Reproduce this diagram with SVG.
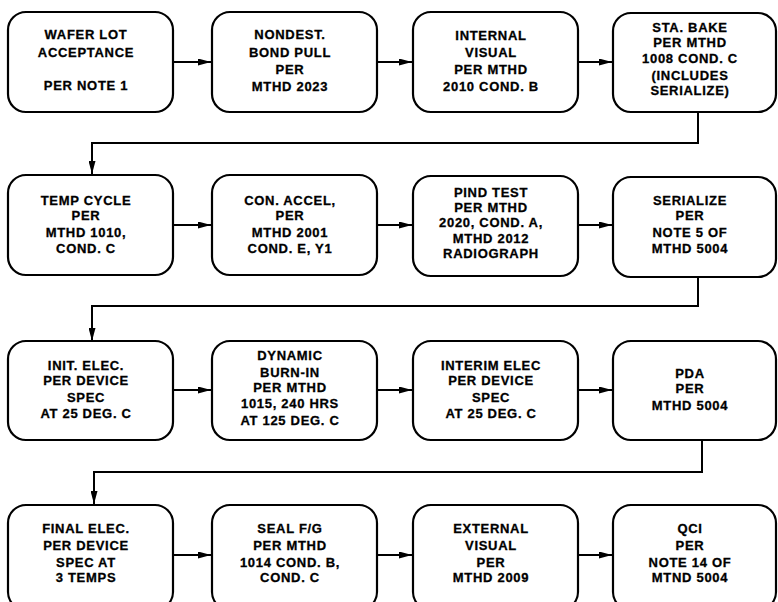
<svg xmlns="http://www.w3.org/2000/svg" width="778" height="602" viewBox="0 0 778 602">
<style>
.box{fill:#fff;stroke:#000;stroke-width:2.2}
.lbl{font-family:"Liberation Sans",Arial,sans-serif;font-weight:bold;font-size:13px;letter-spacing:0.7px;text-anchor:middle;fill:#000;stroke:#000;stroke-width:0.3}
.con{fill:none;stroke:#000;stroke-width:2}
</style>
<defs>
<marker id="ah" viewBox="0 0 13 7" refX="13" refY="3.5" markerWidth="13" markerHeight="7" markerUnits="userSpaceOnUse" orient="auto">
<path d="M0,0 L13,3.5 L0,7 z" fill="#000"/>
</marker>
</defs>
<rect width="778" height="602" fill="#fff"/>
<g id="connectors">
<path class="con" d="M173,62 H211" marker-end="url(#ah)"/>
<path class="con" d="M377,62 H412" marker-end="url(#ah)"/>
<path class="con" d="M578,62 H612" marker-end="url(#ah)"/>
<path class="con" d="M698,112 V143 H92 V174" marker-end="url(#ah)"/>
<path class="con" d="M173,225 H211" marker-end="url(#ah)"/>
<path class="con" d="M377,225 H412" marker-end="url(#ah)"/>
<path class="con" d="M578,225 H612" marker-end="url(#ah)"/>
<path class="con" d="M698,277 V306 H92 V341" marker-end="url(#ah)"/>
<path class="con" d="M173,390 H211" marker-end="url(#ah)"/>
<path class="con" d="M377,390 H412" marker-end="url(#ah)"/>
<path class="con" d="M578,390 H612" marker-end="url(#ah)"/>
<path class="con" d="M702,440 V472 H94 V504" marker-end="url(#ah)"/>
<path class="con" d="M173,555 H211" marker-end="url(#ah)"/>
<path class="con" d="M377,555 H412" marker-end="url(#ah)"/>
<path class="con" d="M578,555 H612" marker-end="url(#ah)"/>
</g>
<g id="n1"><rect class="box" x="8" y="12" width="165" height="100" rx="18"/>
<text class="lbl" x="86" y="39">WAFER LOT</text><text class="lbl" x="86" y="57">ACCEPTANCE</text><text class="lbl" x="86" y="90">PER NOTE 1</text></g>
<g id="n2"><rect class="box" x="212" y="12" width="165" height="100" rx="18"/>
<text class="lbl" x="290" y="39">NONDEST.</text><text class="lbl" x="290" y="57">BOND PULL</text><text class="lbl" x="290" y="74">PER</text><text class="lbl" x="290" y="91">MTHD 2023</text></g>
<g id="n3"><rect class="box" x="413" y="12" width="165" height="100" rx="18"/>
<text class="lbl" x="491" y="40">INTERNAL</text><text class="lbl" x="491" y="57">VISUAL</text><text class="lbl" x="491" y="74">PER MTHD</text><text class="lbl" x="491" y="91">2010 COND. B</text></g>
<g id="n4"><rect class="box" x="613" y="13" width="163" height="99" rx="18"/>
<text class="lbl" x="690" y="32">STA. BAKE</text><text class="lbl" x="690" y="47">PER MTHD</text><text class="lbl" x="690" y="63">1008 COND. C</text><text class="lbl" x="690" y="80">(INCLUDES</text><text class="lbl" x="690" y="95">SERIALIZE)</text></g>
<g id="n5"><rect class="box" x="8" y="175" width="165" height="100" rx="18"/>
<text class="lbl" x="86" y="205">TEMP CYCLE</text><text class="lbl" x="86" y="220">PER</text><text class="lbl" x="86" y="237">MTHD 1010,</text><text class="lbl" x="86" y="253">COND. C</text></g>
<g id="n6"><rect class="box" x="212" y="175" width="165" height="100" rx="18"/>
<text class="lbl" x="290" y="205">CON. ACCEL,</text><text class="lbl" x="290" y="220">PER</text><text class="lbl" x="290" y="237">MTHD 2001</text><text class="lbl" x="290" y="253">COND. E, Y1</text></g>
<g id="n7"><rect class="box" x="413" y="176" width="165" height="100" rx="18"/>
<text class="lbl" x="491" y="197">PIND TEST</text><text class="lbl" x="491" y="212">PER MTHD</text><text class="lbl" x="491" y="227">2020, COND. A,</text><text class="lbl" x="491" y="243">MTHD 2012</text><text class="lbl" x="491" y="258">RADIOGRAPH</text></g>
<g id="n8"><rect class="box" x="613" y="177" width="163" height="100" rx="18"/>
<text class="lbl" x="690" y="205">SERIALIZE</text><text class="lbl" x="690" y="220">PER</text><text class="lbl" x="690" y="237">NOTE 5 OF</text><text class="lbl" x="690" y="253">MTHD 5004</text></g>
<g id="n9"><rect class="box" x="8" y="341" width="165" height="99" rx="18"/>
<text class="lbl" x="86" y="370">INIT. ELEC.</text><text class="lbl" x="86" y="385">PER DEVICE</text><text class="lbl" x="86" y="402">SPEC</text><text class="lbl" x="86" y="418">AT 25 DEG. C</text></g>
<g id="n10"><rect class="box" x="212" y="341" width="165" height="99" rx="18"/>
<text class="lbl" x="290" y="360">DYNAMIC</text><text class="lbl" x="290" y="377">BURN-IN</text><text class="lbl" x="290" y="392">PER MTHD</text><text class="lbl" x="290" y="408">1015, 240 HRS</text><text class="lbl" x="290" y="425">AT 125 DEG. C</text></g>
<g id="n11"><rect class="box" x="413" y="341" width="165" height="99" rx="18"/>
<text class="lbl" x="491" y="370">INTERIM ELEC</text><text class="lbl" x="491" y="385">PER DEVICE</text><text class="lbl" x="491" y="402">SPEC</text><text class="lbl" x="491" y="418">AT 25 DEG. C</text></g>
<g id="n12"><rect class="box" x="613" y="341" width="163" height="99" rx="18"/>
<text class="lbl" x="690" y="378">PDA</text><text class="lbl" x="690" y="393">PER</text><text class="lbl" x="690" y="410">MTHD 5004</text></g>
<g id="n13"><rect class="box" x="8" y="505" width="165" height="105" rx="18"/>
<text class="lbl" x="86" y="533">FINAL ELEC.</text><text class="lbl" x="86" y="550">PER DEVICE</text><text class="lbl" x="86" y="567">SPEC AT</text><text class="lbl" x="86" y="582">3 TEMPS</text></g>
<g id="n14"><rect class="box" x="212" y="505" width="165" height="105" rx="18"/>
<text class="lbl" x="290" y="533">SEAL F/G</text><text class="lbl" x="290" y="550">PER MTHD</text><text class="lbl" x="290" y="567">1014 COND. B,</text><text class="lbl" x="290" y="582">COND. C</text></g>
<g id="n15"><rect class="box" x="413" y="505" width="165" height="105" rx="18"/>
<text class="lbl" x="491" y="533">EXTERNAL</text><text class="lbl" x="491" y="550">VISUAL</text><text class="lbl" x="491" y="567">PER</text><text class="lbl" x="491" y="582">MTHD 2009</text></g>
<g id="n16"><rect class="box" x="613" y="505" width="163" height="105" rx="18"/>
<text class="lbl" x="690" y="533">QCI</text><text class="lbl" x="690" y="550">PER</text><text class="lbl" x="690" y="567">NOTE 14 OF</text><text class="lbl" x="690" y="582">MTND 5004</text></g>
</svg>
